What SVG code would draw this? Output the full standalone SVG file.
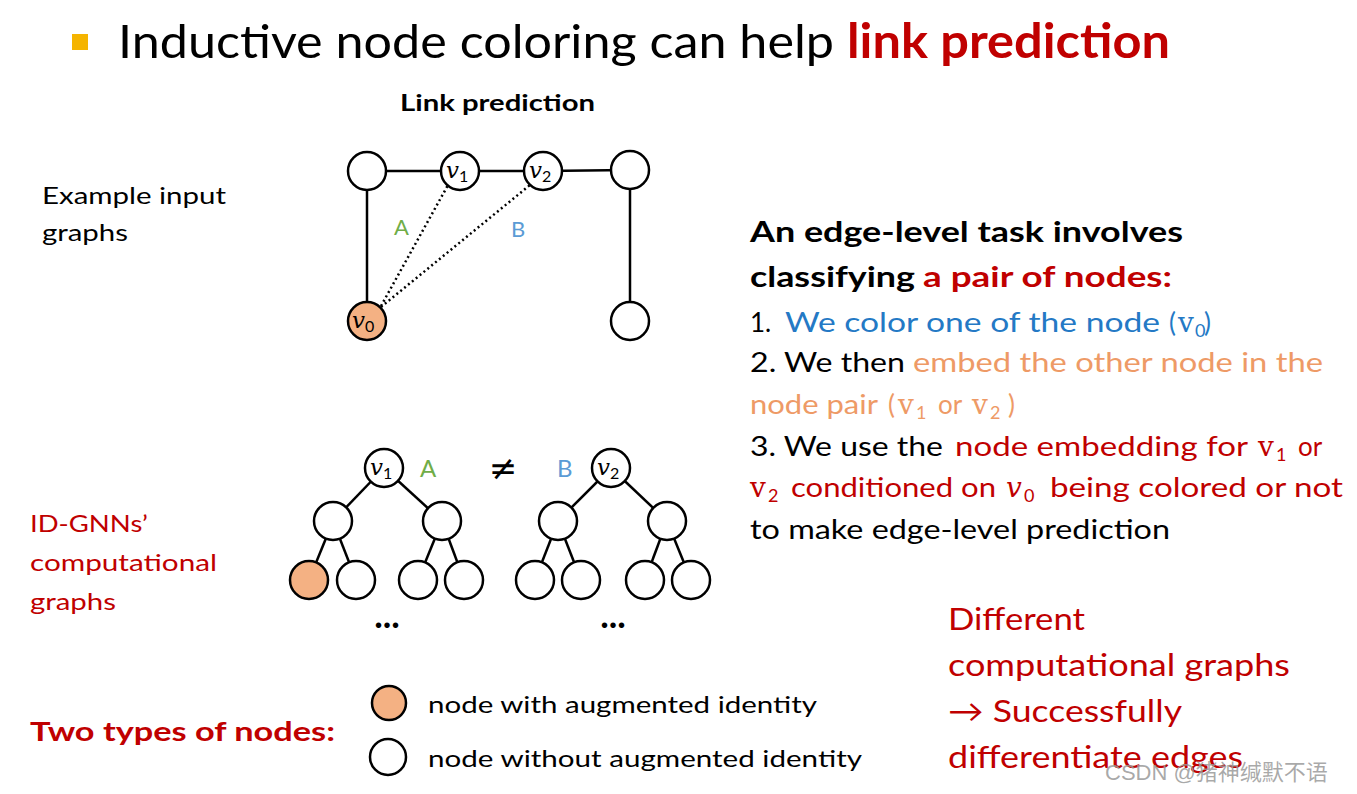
<svg xmlns="http://www.w3.org/2000/svg" width="1357" height="794" viewBox="0 0 1357 794">
<style>
text{font-family:Lato,"Open Sans","Liberation Sans",sans-serif;}
.blk{fill:#000;}
.red{fill:#C00000;}
.blue{fill:#2479C5;}
.org{fill:#EE9A66;}
.b{font-weight:bold;}
.m{font-family:"DejaVu Serif","Liberation Serif",serif;}
.mi{font-family:"DejaVu Serif","Liberation Serif",serif;font-style:italic;}
.node{fill:#fff;stroke:#000;stroke-width:2.5;}
.col{fill:#F4B183;stroke:#000;stroke-width:2.5;}
.edge{stroke:#000;stroke-width:2.5;fill:none;}
.dot{stroke:#000;stroke-width:2.5;stroke-dasharray:2 3;fill:none;}
</style>
<rect width="1357" height="794" fill="#fff"/>

<!-- title -->
<g id="title">
<rect x="72" y="34" width="16" height="16" fill="#F5B400"/>
<text x="118" y="58" font-size="47" class="blk" textLength="716" lengthAdjust="spacingAndGlyphs">Inductive node coloring can help</text>
<text x="847" y="58" font-size="47" class="red b" textLength="323" lengthAdjust="spacingAndGlyphs">link prediction</text>
</g>

<g id="subtitle"><text x="400" y="111" font-size="23" class="blk b" textLength="195" lengthAdjust="spacingAndGlyphs">Link prediction</text></g>

<g id="example-label">
<text x="42" y="204" font-size="24" class="blk" textLength="184" lengthAdjust="spacingAndGlyphs">Example input</text>
<text x="42" y="241" font-size="24" class="blk" textLength="86" lengthAdjust="spacingAndGlyphs">graphs</text>
</g>

<!-- connectors -->
<g id="connectors">
<line class="edge" x1="367" y1="171" x2="460" y2="171"/>
<line class="edge" x1="460" y1="171" x2="543" y2="171"/>
<line class="edge" x1="543" y1="171" x2="630" y2="170"/>
<line class="edge" x1="367" y1="171" x2="367" y2="321"/>
<line class="edge" x1="630" y1="170" x2="630" y2="321"/>
<line class="dot" x1="381" y1="306" x2="448" y2="185"/>
<line class="dot" x1="381" y1="307" x2="530" y2="185"/>
<!-- tree 1 -->
<line class="edge" x1="384" y1="468" x2="333" y2="521"/>
<line class="edge" x1="384" y1="468" x2="442" y2="521"/>
<line class="edge" x1="333" y1="521" x2="309" y2="580"/>
<line class="edge" x1="333" y1="521" x2="356" y2="580"/>
<line class="edge" x1="442" y1="521" x2="418" y2="580"/>
<line class="edge" x1="442" y1="521" x2="464" y2="580"/>
<!-- tree 2 -->
<line class="edge" x1="611" y1="468" x2="558" y2="521"/>
<line class="edge" x1="611" y1="468" x2="667" y2="521"/>
<line class="edge" x1="558" y1="521" x2="535" y2="580"/>
<line class="edge" x1="558" y1="521" x2="581" y2="580"/>
<line class="edge" x1="667" y1="521" x2="645" y2="580"/>
<line class="edge" x1="667" y1="521" x2="691" y2="580"/>
</g>

<!-- example graph nodes -->
<g id="g-tl"><circle class="node" cx="367" cy="171" r="19"/></g>
<g id="g-v1"><circle class="node" cx="460" cy="171" r="19"/><text x="446" y="178" font-size="23" class="mi">v<tspan font-size="16" dy="4" font-style="normal" font-family="Lato,sans-serif">1</tspan></text></g>
<g id="g-v2"><circle class="node" cx="543" cy="171" r="19"/><text x="529" y="178" font-size="23" class="mi">v<tspan font-size="16" dy="4" font-style="normal" font-family="Lato,sans-serif">2</tspan></text></g>
<g id="g-tr"><circle class="node" cx="630" cy="170" r="19"/></g>
<g id="g-v0"><circle class="col" cx="367" cy="321" r="19"/><text x="352" y="328" font-size="23" class="mi">v<tspan font-size="16" dy="4" font-style="normal" font-family="Lato,sans-serif">0</tspan></text></g>
<g id="g-br"><circle class="node" cx="630" cy="321" r="19"/></g>
<g id="edge-labels">
<text x="394" y="235" font-size="22" fill="#70AD47">A</text>
<text x="511" y="237" font-size="22" fill="#5B9BD5">B</text>
</g>

<!-- tree 1 nodes -->
<g id="t1-root"><circle class="node" cx="384" cy="468" r="19"/><text x="370" y="475" font-size="23" class="mi">v<tspan font-size="16" dy="4" font-style="normal" font-family="Lato,sans-serif">1</tspan></text></g>
<g id="t1-a"><circle class="node" cx="333" cy="521" r="19"/></g>
<g id="t1-b"><circle class="node" cx="442" cy="521" r="19"/></g>
<g id="t1-a1"><circle class="col" cx="309" cy="580" r="19"/></g>
<g id="t1-a2"><circle class="node" cx="356" cy="580" r="19"/></g>
<g id="t1-b1"><circle class="node" cx="418" cy="580" r="19"/></g>
<g id="t1-b2"><circle class="node" cx="464" cy="580" r="19"/></g>
<!-- tree 2 nodes -->
<g id="t2-root"><circle class="node" cx="611" cy="468" r="19"/><text x="597" y="475" font-size="23" class="mi">v<tspan font-size="16" dy="4" font-style="normal" font-family="Lato,sans-serif">2</tspan></text></g>
<g id="t2-a"><circle class="node" cx="558" cy="521" r="19"/></g>
<g id="t2-b"><circle class="node" cx="667" cy="521" r="19"/></g>
<g id="t2-a1"><circle class="node" cx="535" cy="580" r="19"/></g>
<g id="t2-a2"><circle class="node" cx="581" cy="580" r="19"/></g>
<g id="t2-b1"><circle class="node" cx="645" cy="580" r="19"/></g>
<g id="t2-b2"><circle class="node" cx="691" cy="580" r="19"/></g>
<g id="tree-labels">
<text x="420" y="477" font-size="24" fill="#70AD47">A</text>
<text x="503" y="480" font-size="34" class="blk" text-anchor="middle" style="font-family:'DejaVu Sans',sans-serif">≠</text>
<text x="557" y="477" font-size="24" fill="#5B9BD5">B</text>
<text x="387" y="628" font-size="36" class="blk b" text-anchor="middle">...</text>
<text x="613" y="628" font-size="36" class="blk b" text-anchor="middle">...</text>
</g>

<g id="idgnn-label">
<text x="30" y="532" font-size="24" class="red" textLength="118" lengthAdjust="spacingAndGlyphs">ID-GNNs’</text>
<text x="30" y="571" font-size="24" class="red" textLength="187" lengthAdjust="spacingAndGlyphs">computational</text>
<text x="30" y="610" font-size="24" class="red" textLength="86" lengthAdjust="spacingAndGlyphs">graphs</text>
</g>

<!-- right text -->
<g id="task-text">
<text x="750" y="242" font-size="29" class="blk b" textLength="433" lengthAdjust="spacingAndGlyphs">An edge-level task involves</text>
<text x="750" y="287" font-size="29" class="blk b" textLength="165" lengthAdjust="spacingAndGlyphs">classifying</text>
<text x="923" y="287" font-size="29" class="red b" textLength="249" lengthAdjust="spacingAndGlyphs">a pair of nodes:</text>

<text x="750" y="332" font-size="26" class="blk">1.</text>
<text x="785" y="332" font-size="26" class="blue" textLength="375" lengthAdjust="spacingAndGlyphs">We color one of the node</text>
<text x="1169" y="332" font-size="26" class="blue">(</text>
<text x="1178" y="332" font-size="28" class="blue m">v</text>
<text x="1195" y="337" font-size="18" class="blue">0</text>
<text x="1204" y="332" font-size="26" class="blue">)</text>

<text x="750" y="372" font-size="26" class="blk" textLength="155" lengthAdjust="spacingAndGlyphs">2. We then</text>
<text x="913" y="372" font-size="26" class="org" textLength="410" lengthAdjust="spacingAndGlyphs">embed the other node in the</text>

<text x="750" y="414" font-size="26" class="org" textLength="128" lengthAdjust="spacingAndGlyphs">node pair</text>
<text x="888" y="414" font-size="26" class="org">(</text>
<text x="898" y="414" font-size="28" class="org m">v</text>
<text x="916" y="419" font-size="18" class="org">1</text>
<text x="938" y="414" font-size="26" class="org">or</text>
<text x="972" y="414" font-size="28" class="org m">v</text>
<text x="990" y="419" font-size="18" class="org">2</text>
<text x="1008" y="414" font-size="26" class="org">)</text>

<text x="750" y="456" font-size="26" class="blk" textLength="193" lengthAdjust="spacingAndGlyphs">3. We use the</text>
<text x="955" y="456" font-size="26" class="red" textLength="293" lengthAdjust="spacingAndGlyphs">node embedding for</text>
<text x="1258" y="456" font-size="28" class="red m">v</text>
<text x="1276" y="461" font-size="18" class="red">1</text>
<text x="1298" y="456" font-size="26" class="red">or</text>

<text x="750" y="497" font-size="28" class="red m">v</text>
<text x="768" y="502" font-size="18" class="red">2</text>
<text x="791" y="497" font-size="26" class="red" textLength="205" lengthAdjust="spacingAndGlyphs">conditioned on</text>
<text x="1006" y="497" font-size="28" class="red mi">v</text>
<text x="1024" y="502" font-size="18" class="red">0</text>
<text x="1050" y="497" font-size="26" class="red" textLength="293" lengthAdjust="spacingAndGlyphs">being colored or not</text>

<text x="750" y="539" font-size="26" class="blk" textLength="420" lengthAdjust="spacingAndGlyphs">to make edge-level prediction</text>
</g>

<g id="conclusion">
<text x="948" y="630" font-size="31" class="red" textLength="137" lengthAdjust="spacingAndGlyphs">Different</text>
<text x="948" y="676" font-size="31" class="red" textLength="342" lengthAdjust="spacingAndGlyphs">computational graphs</text>
<text x="948" y="722" font-size="31" class="red" textLength="234" lengthAdjust="spacingAndGlyphs">→ Successfully</text>
<text x="948" y="768" font-size="31" class="red" textLength="295" lengthAdjust="spacingAndGlyphs">differentiate edges</text>
</g>

<g id="legend">
<text x="30" y="741" font-size="27" class="red b" textLength="305" lengthAdjust="spacingAndGlyphs">Two types of nodes:</text>
<circle class="col" cx="389" cy="703" r="17"/>
<circle class="node" cx="388" cy="757" r="18"/>
<text x="428" y="713" font-size="24" class="blk" textLength="389" lengthAdjust="spacingAndGlyphs">node with augmented identity</text>
<text x="428" y="767" font-size="24" class="blk" textLength="434" lengthAdjust="spacingAndGlyphs">node without augmented identity</text>
</g>

<g id="watermark">
<text x="1105" y="780" font-size="22" fill="#9a9a9a" fill-opacity="0.85" style="font-family:'Liberation Sans','Noto Sans CJK SC',sans-serif">CSDN @猪神缄默不语</text>
</g>
</svg>
